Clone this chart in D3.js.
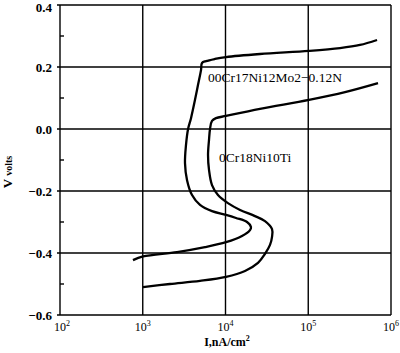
<!DOCTYPE html>
<html>
<head>
<meta charset="utf-8">
<script src="https://cdn.jsdelivr.net/npm/d3@7"></script>
<style>
  body { margin: 0; background: #fff; }
  text { font-family: "Liberation Serif", "Times New Roman", "DejaVu Serif", serif; }
</style>
</head>
<body>
<svg width="400" height="353"></svg>
<script>
var svg = d3.select('svg')

// curve 00Cr17Ni12Mo2-0.12N : current (nA/cm2), potential (V)
var mo2I = [762, 1007, 2594, 5650, 10140, 15820, 19770, 20320, 18200, 13400, 10140, 6870, 4920, 3940, 3430, 3240, 3330, 3530, 3830, 4280, 4650, 5060, 5200, 5810, 7460, 10140, 26100, 102000, 242000, 422000, 678000]
var mo2V = [-0.423, -0.411, -0.397, -0.381, -0.365, -0.345, -0.326, -0.316, -0.300, -0.287, -0.277, -0.265, -0.245, -0.213, -0.165, -0.110, -0.052, 0.0, 0.035, 0.094, 0.142, 0.190, 0.213, 0.219, 0.226, 0.232, 0.242, 0.252, 0.261, 0.271, 0.287]

// curve 0Cr18Ni10Ti
var tiI = [1007, 2130, 4920, 10140, 17200, 24700, 30000, 34500, 36500, 36500, 30000, 22700, 15000, 10700, 8110, 6870, 6320, 6150, 6320, 6500, 6870, 7670, 10140, 26100, 102000, 278000, 697000]
var tiV = [-0.510, -0.500, -0.490, -0.477, -0.458, -0.432, -0.403, -0.374, -0.348, -0.323, -0.297, -0.281, -0.261, -0.239, -0.213, -0.181, -0.132, -0.084, -0.035, 0.0, 0.026, 0.035, 0.042, 0.065, 0.094, 0.119, 0.148]

var xTicks = [1e2, 1e3, 1e4, 1e5, 1e6]
var xExp = ['2', '3', '4', '5', '6']
var yTicks = [0.4, 0.2, 0.0, -0.2, -0.4, -0.6]
var yLabels = ['0.4', '0.2', '0.0', '\u22120.2', '\u22120.4', '\u22120.6']
var yMinor = [0.3, 0.1, -0.1, -0.3, -0.5]

var x = d3.scaleLog().domain([1e2, 1e6]).range([60, 391])
var y = d3.scaleLinear().domain([-0.6, 0.4]).range([315, 5])

var serif = '"Liberation Serif", "Times New Roman", "DejaVu Serif", serif'

// grid
var grid = svg.append('g')
  .style('stroke', '#000')
  .style('stroke-width', 1.4)

grid.selectAll('line.h')
  .data(yTicks)
  .enter()
  .append('line')
  .attr('x1', x(1e2) - 3)
  .attr('x2', x(1e6))
  .attr('y1', (d) => y(d))
  .attr('y2', (d) => y(d))

grid.selectAll('line.v')
  .data(xTicks)
  .enter()
  .append('line')
  .attr('x1', (d) => x(d))
  .attr('x2', (d) => x(d))
  .attr('y1', y(0.4))
  .attr('y2', y(-0.6))

grid.selectAll('line.m')
  .data(yMinor)
  .enter()
  .append('line')
  .attr('x1', x(1e2))
  .attr('x2', x(1e2) + 4)
  .attr('y1', (d) => y(d))
  .attr('y2', (d) => y(d))

// tick labels
svg.selectAll('text.yt')
  .data(yTicks)
  .enter()
  .append('text')
  .attr('x', 52)
  .attr('y', (d) => Math.max(y(d) + 5, 11.5))
  .attr('text-anchor', 'end')
  .attr('font-family', serif)
  .style('font-size', '13px')
  .style('font-weight', 'bold')
  .text((d, i) => yLabels[i])

var xt = svg.selectAll('text.xt')
  .data(xTicks)
  .enter()
  .append('text')
  .attr('x', (d, i) => x(d) + (i === 0 ? 2 : 0))
  .attr('y', 331)
  .attr('text-anchor', 'middle')
  .attr('font-family', serif)
  .style('font-size', '12px')
xt.append('tspan').text('10')
xt.append('tspan')
  .attr('dy', -5)
  .style('font-size', '8px')
  .text((d, i) => xExp[i])

// axis titles
var xl = svg.append('text')
  .attr('x', 227)
  .attr('y', 346)
  .attr('text-anchor', 'middle')
  .attr('font-family', serif)
  .style('font-size', '12px')
  .style('font-weight', 'bold')
xl.append('tspan').text('I,nA/cm')
xl.append('tspan').attr('dy', -5).style('font-size', '8px').text('2')

var yl = svg.append('text')
  .attr('transform', 'translate(12,172) rotate(-90)')
  .attr('text-anchor', 'middle')
  .attr('font-family', serif)
  .style('font-weight', 'bold')
yl.append('tspan').style('font-size', '13px').text('V ')
yl.append('tspan').style('font-size', '10px').text('volts')

// curves
var line = d3.line()
  .x((d) => x(d[0]))
  .y((d) => y(d[1]))
  .curve(d3.curveCatmullRom.alpha(0.5))

var series = [d3.zip(mo2I, mo2V), d3.zip(tiI, tiV)]

svg.selectAll('path.c')
  .data(series)
  .enter()
  .append('path')
  .attr('d', (d) => line(d))
  .style('fill', 'none')
  .style('stroke', '#000')
  .style('stroke-width', 2.3)

// curve labels
svg.append('text')
  .attr('x', 208)
  .attr('y', 82)
  .attr('font-family', serif)
  .style('font-size', '13.5px')
  .text('00Cr17Ni12Mo2\u22120.12N')

svg.append('text')
  .attr('x', 219)
  .attr('y', 162)
  .attr('font-family', serif)
  .style('font-size', '13.5px')
  .text('0Cr18Ni10Ti')
</script>
</body>
</html>
